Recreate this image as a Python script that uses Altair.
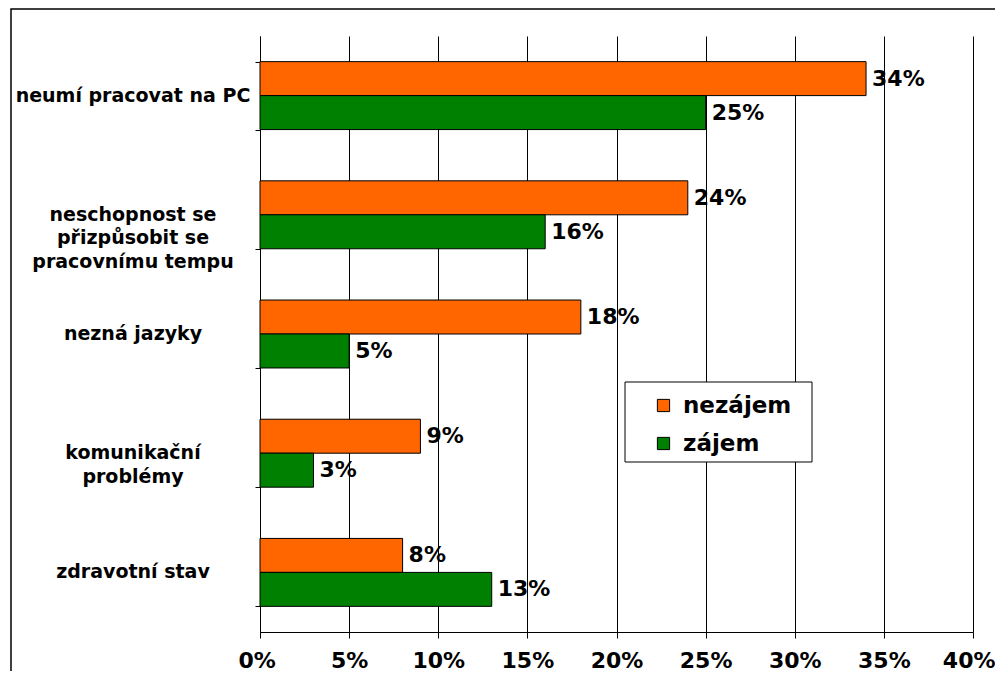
import altair as alt
import pandas as pd

categories = [
    "neumí pracovat na PC",
    "neschopnost se\npřizpůsobit se\npracovnímu tempu",
    "nezná jazyky",
    "komunikační\nproblémy",
    "zdravotní stav",
]
series = ["nezájem", "zájem"]
nezajem = [34, 24, 18, 9, 8]
zajem = [25, 16, 5, 3, 13]
colors = ["#FF6600", "#008000"]
x_ticks = [0, 5, 10, 15, 20, 25, 30, 35, 40]

rows = []
for c, a, b in zip(categories, nezajem, zajem):
    rows.append({"cat": c, "series": "nezájem", "value": a / 100, "label": f"{a}%"})
    rows.append({"cat": c, "series": "zájem", "value": b / 100, "label": f"{b}%"})
df = pd.DataFrame(rows)
cat_df = pd.DataFrame({"cat": categories})

FONT = "DejaVu Sans"

y_enc = alt.Y(
    "cat:N",
    sort=categories,
    scale=alt.Scale(paddingInner=0.43, paddingOuter=0.215),
    axis=alt.Axis(
        title=None, labels=False, tickBand="extent", tickSize=5,
        tickColor="black", domainColor="black", grid=False,
    ),
)
x_enc = alt.X(
    "value:Q",
    scale=alt.Scale(domain=[0, 0.4], nice=False),
    axis=alt.Axis(
        title=None, values=[v / 100 for v in x_ticks], format=".0%",
        grid=True, gridColor="black", gridOpacity=1, gridWidth=1,
        tickSize=6, tickColor="black", domainColor="black",
        labelFont=FONT, labelFontSize=22, labelFontWeight="bold",
        labelColor="black", labelPadding=12,
        labelFlush=True, labelFlushOffset=22, labelBound=False,
    ),
)
yoff = alt.YOffset("series:N", sort=series)

legend_box = alt.Chart(cat_df.head(1)).mark_rect(
    fill="white", stroke="black", strokeWidth=1
).encode(x=alt.value(365), x2=alt.value(552), y=alt.value(346), y2=alt.value(426))

bars = alt.Chart(df).mark_bar(stroke="black", strokeWidth=1).encode(
    y=y_enc,
    x=x_enc,
    yOffset=yoff,
    color=alt.Color(
        "series:N", sort=series,
        scale=alt.Scale(domain=series, range=colors),
        legend=alt.Legend(
            title=None, orient="none", legendX=380, legendY=346,
            symbolType="square", symbolSize=150, symbolStrokeColor="black",
            symbolStrokeWidth=1, labelFont=FONT, labelFontSize=23,
            labelFontWeight="bold", labelColor="black", rowPadding=14,
            padding=12, symbolOpacity=1, labelOffset=8,
        ),
    ),
)

labels = alt.Chart(df).mark_text(
    align="left", baseline="middle", dx=6, font=FONT, fontSize=22,
    fontWeight="bold", color="black",
).encode(y=alt.Y("cat:N", sort=categories), x="value:Q", yOffset=yoff, text="label:N")

cat_labels = alt.Chart(cat_df).mark_text(
    align="center", baseline="middle", lineBreak="\n", font=FONT, fontSize=19,
    fontWeight="bold", color="black", lineHeight=23.5,
).encode(y=alt.Y("cat:N", sort=categories), x=alt.value(-127), text="cat:N")

frame = alt.Chart(cat_df.head(1)).mark_rect(
    fill=None, stroke="black", strokeWidth=1.5
).encode(x=alt.value(-249), x2=alt.value(800), y=alt.value(-27), y2=alt.value(700))

chart = alt.layer(frame, legend_box, bars, labels, cat_labels).properties(
    width=713, height=596,
    autosize=alt.AutoSizeParams(type="none"),
    padding={"left": 252, "top": 28, "right": 22, "bottom": 39},
).configure_view(stroke=None)

chart.save("out.html", embed_options={"renderer": "svg", "actions": False})
